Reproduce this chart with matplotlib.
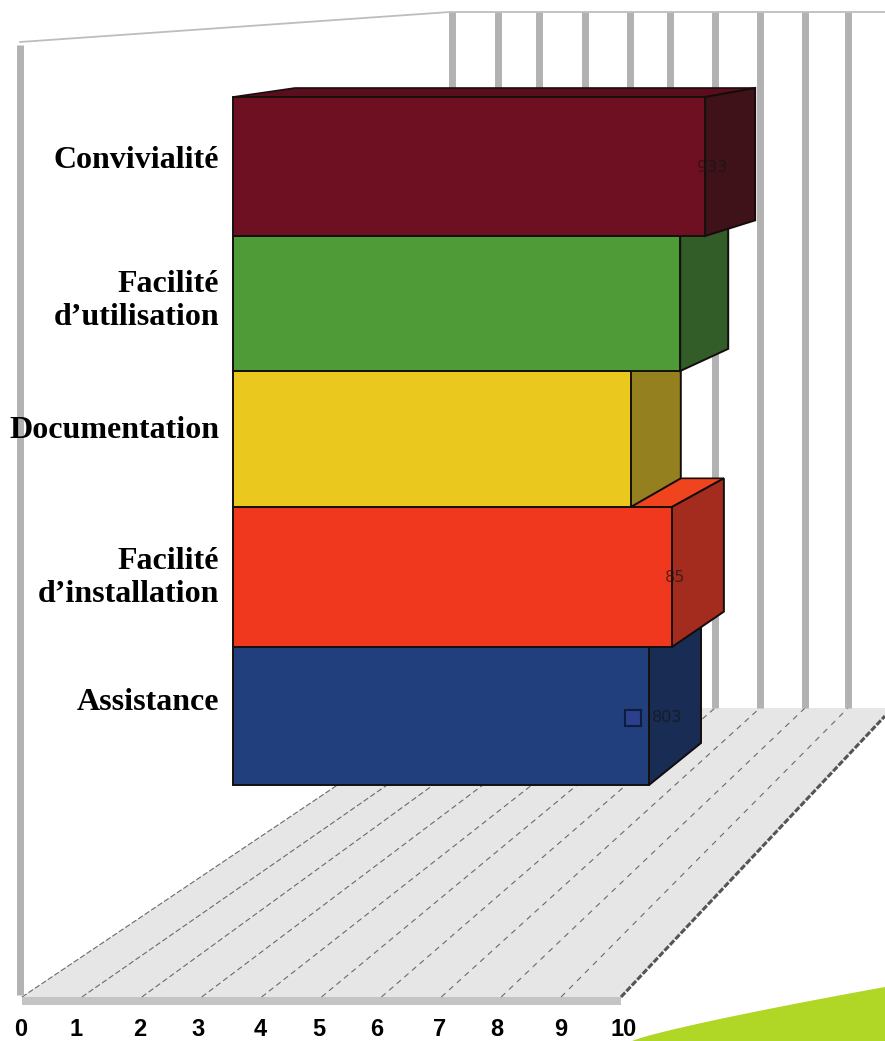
import numpy as np
import matplotlib
matplotlib.use('Agg')
import matplotlib.pyplot as plt
from matplotlib.patches import Polygon

categories = ['Convivialité', 'Facilité\nd’utilisation', 'Documentation', 'Facilité\nd’installation', 'Assistance']
values = [9.08, 8.6, 7.65, 8.44, 8.0]
value_labels = ['933', '', '', '85', '803']
tick_labels = ['0', '1', '2', '3', '4', '5', '6', '7', '8', '9', '10']

front_colors = ['#6e1021', '#4f9b38', '#eac81e', '#ef381e', '#213f7c']
side_colors = ['#3f1119', '#325c28', '#95801f', '#a32c1e', '#192c54']
top_colors = ['#5a0d1c', '#3f7a2e', '#c0a41c', '#f0441f', '#1c3568']

W, H = 885, 1041
fig = plt.figure(figsize=(W / 100, H / 100), dpi=100)

# scenery, in picture pixels
scene = fig.add_axes([0, 0, 1, 1])
scene.set_xlim(0, W)
scene.set_ylim(H, 0)
scene.axis('off')

front_y = 997
back_y = 708
front_x = 22 + 59.9 * np.arange(11)
back_x = [452, 498, 539, 585, 630, 670, 715, 760, 805, 848]
tick_x = [21, 76, 140, 198, 260, 319, 377, 440, 497, 561, 624]

scene.add_patch(Polygon([(22, front_y), (621, front_y), (893, back_y), (back_x[0], back_y)],
                        closed=True, fc='#e6e6e6', ec='none'))
scene.add_patch(Polygon([(22, front_y), (621, front_y), (621, 1005), (22, 1005)],
                        closed=True, fc='#c4c4c4', ec='none'))
scene.plot([621, 885], [front_y, 716], color='#555555', lw=2.2, ls=(0, (2, 0.6)))
for i in range(10):
    scene.plot([front_x[i], back_x[i]], [front_y, back_y], color='#6a6a6a', lw=0.8,
               ls=(0, (5, 2 + 0.35 * i)))
for x in back_x:
    scene.plot([x, x], [12, back_y], color='#b2b2b2', lw=5, solid_capstyle='butt')
scene.plot([20, 20], [45, 995], color='#b2b2b2', lw=5, solid_capstyle='butt')
scene.plot([20, 450, 885], [42, 12, 12], color='#bdbdbd', lw=1.3)

for x, lab in zip(tick_x, tick_labels):
    scene.text(x, 1029, lab, ha='center', va='center', fontsize=17, fontweight='bold',
               family='Liberation Sans', color='black')

# lime corner
t = np.linspace(0, 1, 30)
swoosh_x = 632 + 253 * t
swoosh_y = 1041 - 54 * t ** 0.85
scene.fill(np.r_[swoosh_x, W, 632], np.r_[swoosh_y, H, H], color='#b0d626', lw=0)

# bars: x in value units, y in pixels
bar_left, unit = 233, 52
bars = fig.add_axes([0, 0, 1, 1])
bars.set_xlim(-bar_left / unit, (W - bar_left) / unit)
bars.set_ylim(H, 0)
bars.axis('off')
bars.patch.set_alpha(0)

edges = [97, 236, 371, 507, 647, 785]
depths = [50, 48, 50, 52, 52]
label_x = [712, 0, 0, 675, 667]
label_px = [167, 0, 0, 578, 717]


def rise(y):
    return 9 + (y - 97) * 0.048


# lowest bar first, each upper one sits over the one below
for i in range(len(values) - 1, -1, -1):
    v = values[i]
    depth = depths[i] / unit
    y0, y1 = edges[i], edges[i + 1]
    top = [(0, y0), (62 / unit, y0 - rise(y0)), (v + depth, y0 - rise(y0)), (v, y0)]
    side = [(v, y0), (v + depth, y0 - rise(y0)), (v + depth, y1 - rise(y1)), (v, y1)]
    bars.add_patch(Polygon(top, closed=True, fc=top_colors[i], ec='#1a0d0d', lw=1.2))
    bars.add_patch(Polygon(side, closed=True, fc=side_colors[i], ec='#140c0c', lw=1.4))
    bars.barh(y0, v, height=y1 - y0, align='edge', color=front_colors[i],
              edgecolor='#15100c', linewidth=1.4)
    if value_labels[i]:
        scene_x = (label_x[i] - bar_left) / unit
        bars.text(scene_x, label_px[i], value_labels[i], fontsize=11.5,
                  ha='center', va='center', color='#141414', alpha=0.65)

# legend square of the last bar
bars.plot([values[4] - 0.31], [718], marker='s', ms=11, mfc='#2b3f8c', mec='#0f1d3d', mew=1.5)

label_y = [160, 301, 430, 578, 703]
for lab, y in zip(categories, label_y):
    scene.text(219, y, lab, ha='right', va='center', fontsize=23, fontweight='bold',
               family='Liberation Serif', linespacing=1.22, color='black', zorder=10)

fig.savefig('out.png', dpi=100)
